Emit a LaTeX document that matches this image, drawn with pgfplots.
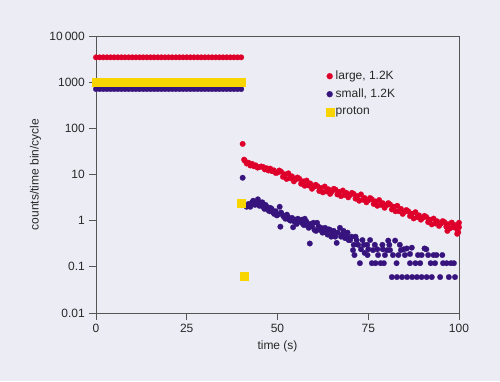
\documentclass[border=0pt]{standalone}
\usepackage{pgfplots}
\pgfplotsset{compat=1.18}
\usepackage{fontspec}
\setmainfont{Liberation Sans}
\definecolor{bg}{RGB}{236,236,244}
\definecolor{cred}{RGB}{222,0,42}
\definecolor{cpur}{RGB}{55,20,125}
\definecolor{cyel}{RGB}{248,212,0}
\definecolor{axc}{RGB}{85,85,85}
\definecolor{txt}{RGB}{40,40,40}
\begin{document}
\fontsize{12}{14}\selectfont
\begin{tikzpicture}
\fill[bg] (-96pt,-68pt) rectangle (404pt,313pt);
\begin{semilogyaxis}[
  at={(0pt,0pt)}, anchor=south west,
  scale only axis, width=363pt, height=277pt,
  xmin=0, xmax=100, ymin=0.01, ymax=10000,
  clip=false,
  axis line style={axc, line width=0.9pt},
  tick style={axc, line width=0.9pt},
  tick align=outside, major tick length=7pt,
  xtick pos=left, ytick pos=left,
  yminorticks=false,
  xtick={0,25,50,75,100},
  xticklabels={0,25,50,75,100},
  ytick={0.01,0.1,1,10,100,1000,10000},
  yticklabels={0.01,0.1,1,10,100,1000,10\,000},
  ticklabel style={font=\fontsize{12}{14}\selectfont, text=txt},
  /pgf/number format/assume math mode=true,
  xlabel={time (s)}, ylabel={counts/time bin/cycle},
  label style={font=\fontsize{12}{14}\selectfont, text=txt},
  legend style={at={(rel axis cs:0.624,0.889)}, anchor=north west, draw=none, fill=none,
    font=\fontsize{12}{14}\selectfont, text=txt, row sep=3.5pt, cells={anchor=west}},
  legend cell align=left,
  legend image code/.code={\draw[mark repeat=2,mark phase=2,#1] plot coordinates {(0pt,0pt)(4pt,0pt)(10pt,0pt)};},
]
\addplot[only marks, mark=*, mark size=2.8pt, color=cred, mark options={line width=0.2pt}, legend image post style={mark size=3pt}] coordinates {
(0,3450)(1,3450)(2,3450)(3,3450)(4,3450)(5,3450)(6,3450)(7,3450)(8,3450)(9,3450)
(10,3450)(11,3450)(12,3450)(13,3450)(14,3450)(15,3450)(16,3450)(17,3450)(18,3450)(19,3450)
(20,3450)(21,3450)(22,3450)(23,3450)(24,3450)(25,3450)(26,3450)(27,3450)(28,3450)(29,3450)
(30,3450)(31,3450)(32,3450)(33,3450)(34,3450)(35,3450)(36,3450)(37,3450)(38,3450)(39,3450)(40,3450)
(40.4,46)(40.8,21)
(41,20.0)(41.5,17.3)(42,18.0)(42.5,15.7)(43,17.0)(43.5,15.1)(44,15.8)(44.5,14.1)(45,14.5)(45.5,14.9)
(46,14.6)(46.5,12.9)(47,13.7)(47.5,12.2)(48,13.4)(48.5,11.8)(49,12.3)(49.5,10.8)(50,11.0)(50.5,12.2)
(51,11.5)(51.5,8.9)(52,10.1)(52.5,8.0)(53,10.6)(53.5,8.3)(54,9.1)(54.5,7.1)(55,7.8)(55.5,8.6)
(56,8.1)(56.5,6.3)(57,7.1)(57.5,5.7)(58,7.4)(58.5,5.8)(59,6.4)(59.5,4.9)(60,5.4)(60.5,6.0)
(61,5.6)(61.5,4.4)(62,5.1)(62.5,4.1)(63,5.5)(63.5,4.3)(64,4.8)(64.5,3.8)(65,4.3)(65.5,4.9)
(66,4.7)(66.5,3.7)(67,4.2)(67.5,3.4)(68,4.5)(68.5,3.6)(69,4.0)(69.5,3.2)(70,3.6)(70.5,4.0)
(71,3.8)(71.5,3.0)(72,3.4)(72.5,2.7)(73,3.7)(73.5,2.85)(74,3.1)(74.5,2.5)(75,2.75)(75.5,3.1)
(76,2.9)(76.5,2.3)(77,2.6)(77.5,2.1)(78,2.8)(78.5,2.2)(79,2.4)(79.5,1.9)(80,2.15)(80.5,2.4)
(81,2.25)(81.5,1.75)(82,2.0)(82.5,1.6)(83,2.1)(83.5,1.6)(84,1.8)(84.5,1.4)(85,1.55)(85.5,1.7)
(86,1.6)(86.5,1.26)(87,1.42)(87.5,1.12)(88,1.53)(88.5,1.19)(89,1.3)(89.5,1.05)(90,1.15)(90.5,1.27)
(91,1.2)(91.5,0.93)(92,1.05)(92.5,0.83)(93,1.11)(93.5,0.87)(94,0.97)(94.5,0.77)(95,0.86)(95.5,0.98)
(96,0.93)(96.5,0.74)(97,0.84)(97.5,0.68)(98,0.91)(98.5,0.72)(99,0.8)(99.5,0.64)(100,0.72)
(96.8,0.6)(99.5,0.52)(100,0.9)(99.8,0.56)
};
\addlegendentry{large, 1.2K}
\addplot[only marks, mark=*, mark size=2.8pt, color=cpur, mark options={line width=0.2pt}, legend image post style={mark size=3pt}] coordinates {
(0,710)(1,710)(2,710)(3,710)(4,710)(5,710)(6,710)(7,710)(8,710)(9,710)
(10,710)(11,710)(12,710)(13,710)(14,710)(15,710)(16,710)(17,710)(18,710)(19,710)
(20,710)(21,710)(22,710)(23,710)(24,710)(25,710)(26,710)(27,710)(28,710)(29,710)
(30,710)(31,710)(32,710)(33,710)(34,710)(35,710)(36,710)(37,710)(38,710)(39,710)(40,710)
(40.4,8.5)
(41.5,2.0)(42,2.3)(43,2.5)(43.8,2.2)(44.6,2.9)(45.3,2.4)(46,2.0)(46.7,2.2)(47.4,1.7)(48,1.9)
(48.8,1.5)(49.5,1.6)(50.1,1.35)(50.6,2.0)(50.8,0.74)(51.5,1.3)(52.2,1.1)(52.9,1.2)(53.6,1.0)(54.3,0.72)
(55,1.05)(55.6,1.1)(56.3,0.95)(57,0.85)(57.5,1.1)(58.2,0.8)(58.9,0.32)(59.5,0.75)(60.2,0.63)(60.9,0.9)
(61.7,0.63)(62.4,0.55)(63.1,0.7)(63.8,0.5)(64.5,0.63)(65.2,0.55)(65.9,0.45)(66.3,0.33)(67.2,0.7)(67.9,0.5)
(68.6,0.42)(69.3,0.55)(70,0.38)(70.8,0.23)(71.5,0.45)(72.2,0.3)(72.7,0.12)(73.4,0.38)(74,0.2)(74.7,0.3)
(75.5,0.38)(76.3,0.23)(77,0.12)(77.7,0.18)(78.4,0.12)(78.9,0.3)(79.6,0.18)(80.2,0.23)(80.5,0.37)(81,0.23)
(81.5,0.06)(82.4,0.37)(82.8,0.12)(83.3,0.18)(84,0.23)(82.9,0.06)(84.3,0.06)(85.1,0.18)(85.7,0.06)(86.5,0.19)
(87,0.26)(87.1,0.06)(88,0.12)(88.4,0.06)(89.3,0.12)(89.7,0.18)(89.7,0.06)(90.5,0.25)(91.1,0.06)(92.2,0.12)
(92.5,0.06)(93.8,0.18)(93.4,0.12)(94.8,0.06)(95.6,0.12)(96.6,0.12)(97.8,0.12)(97.2,0.06)(98.9,0.06)(98.6,0.12)
(76,0.12)(79.3,0.12)(71.2,0.18)(74.8,0.18)(86.5,0.12)(91.5,0.18)(84.8,0.24)(95.4,0.18)
(42.5,2.0)(43.3,2.7)(44.1,2.4)(45,2.1)(45.8,2.5)(46.4,1.8)(47,2.0)(47.8,1.6)(48.4,1.8)(49.1,1.4)
(49.8,1.3)(51,1.5)(51.8,1.2)(52.6,1.35)(53.2,1.05)(54,1.15)(54.7,0.95)(55.3,0.85)(56,1.0)(56.7,1.05)
(57.3,0.8)(58,0.95)(58.6,0.7)(59.2,0.85)(59.9,0.9)(60.6,0.6)(61.3,0.75)(62,0.7)(62.7,0.6)(63.4,0.55)
(64.1,0.65)(64.8,0.45)(65.5,0.6)(66.6,0.55)(67.5,0.45)(68.2,0.6)(69,0.45)(69.6,0.38)(70.4,0.45)(71,0.3)
(71.8,0.38)(73,0.24)(73.8,0.3)(75,0.24)(76.8,0.3)(77.5,0.24)(79,0.24)(80.8,0.3)(81.8,0.18)(83.7,0.3)
(85.6,0.25)(88.7,0.18)(91,0.24)(93,0.18)
};
\addlegendentry{small, 1.2K}
\addplot[only marks, mark=square*, mark size=3.8pt, color=cyel, mark options={line width=0.2pt}, legend image post style={mark size=4pt}] coordinates {
(0,1000)(1,1000)(2,1000)(3,1000)(4,1000)(5,1000)(6,1000)(7,1000)(8,1000)(9,1000)
(10,1000)(11,1000)(12,1000)(13,1000)(14,1000)(15,1000)(16,1000)(17,1000)(18,1000)(19,1000)
(20,1000)(21,1000)(22,1000)(23,1000)(24,1000)(25,1000)(26,1000)(27,1000)(28,1000)(29,1000)
(30,1000)(31,1000)(32,1000)(33,1000)(34,1000)(35,1000)(36,1000)(37,1000)(38,1000)(39,1000)(40,1000)
(40.0,2.4)(40.8,0.063)
};
\addlegendentry{proton}
\end{semilogyaxis}
\end{tikzpicture}
\end{document}
